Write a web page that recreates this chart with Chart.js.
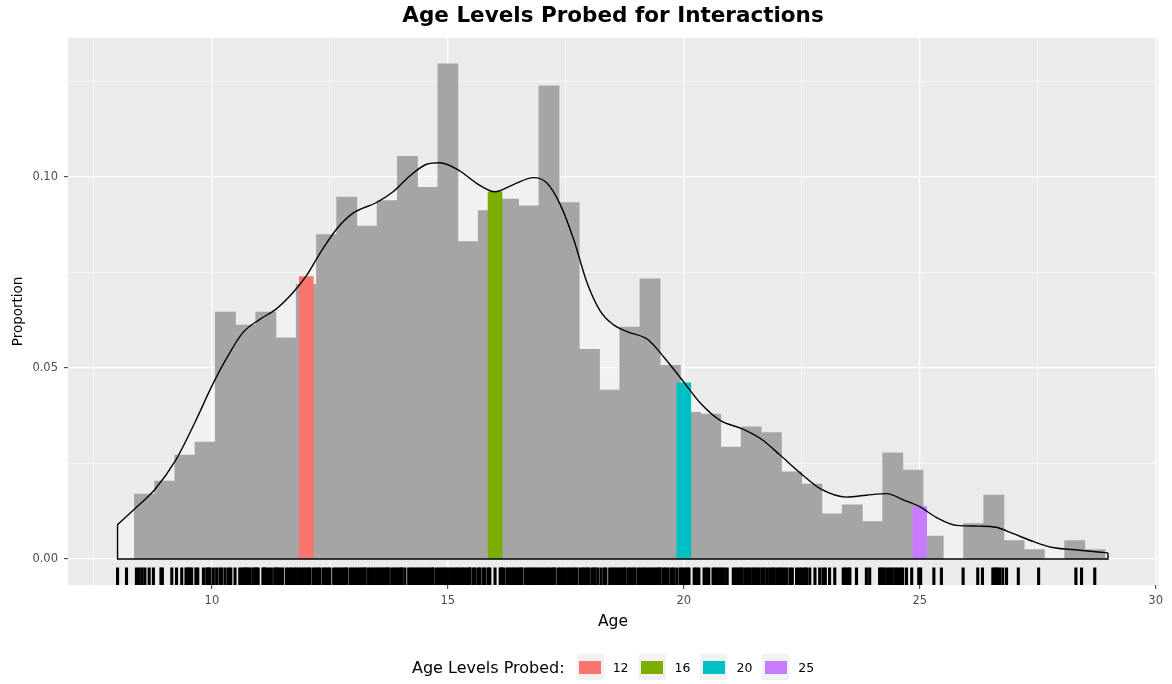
<!DOCTYPE html>
<html>
<head>
<meta charset="utf-8">
<script src="https://cdn.jsdelivr.net/npm/chart.js@4.4.1/dist/chart.umd.min.js"></script>
<style>
  html, body { margin: 0; padding: 0; background: #fff; }
  #wrap { position: relative; width: 1172px; height: 684px; }
  #legend { position: absolute; left: 412px; top: 654px; height: 26px; display: flex; align-items: center;
            font-family: 'DejaVu Sans', sans-serif; color: #000; white-space: nowrap; }
  #legend .title { font-size: 16px; }
  #legend .key { width: 27px; height: 26px; background: #F2F2F2; display: flex; align-items: center;
                 justify-content: center; margin-left: 10px; }
  #legend .key.first { margin-left: 12px; }
  #legend .swatch { width: 22px; height: 13px; }
  #legend .lab { font-size: 12.5px; margin-left: 9px; }
</style>
</head>
<body>
<div id="wrap">
  <canvas id="chart" width="1172" height="684"></canvas>
  <div id="legend"></div>
</div>
<script>
// histogram: 50 bins, centres and bar heights (proportion)
const binCenters = [
  8.143, 8.571, 9.000, 9.429, 9.857, 10.286, 10.714, 11.143, 11.571, 12.000,
  12.429, 12.857, 13.286, 13.714, 14.143, 14.571, 15.000, 15.429, 15.857, 16.286,
  16.714, 17.143, 17.571, 18.000, 18.429, 18.857, 19.286, 19.714, 20.143, 20.571,
  21.000, 21.429, 21.857, 22.286, 22.714, 23.143, 23.571, 24.000, 24.429, 24.857,
  25.286, 25.714, 26.143, 26.571, 27.000, 27.429, 27.857, 28.286, 28.714, 29.143
];
const binProportion = [
  0, 0.0170, 0.0204, 0.0272, 0.0306, 0.0646, 0.0612, 0.0646, 0.0579, 0.0719,
  0.0849, 0.0947, 0.0871, 0.0938, 0.1054, 0.0973, 0.1296, 0.0831, 0.0912, 0.0942,
  0.0924, 0.1238, 0.0933, 0.0549, 0.0442, 0.0607, 0.0733, 0.0507, 0.0384, 0.0379,
  0.0293, 0.0346, 0.0331, 0.0228, 0.0196, 0.0118, 0.0142, 0.0098, 0.0278, 0.0233,
  0.0060, 0, 0.0093, 0.0167, 0.0048, 0.0025, 0, 0.0048, 0.0025, 0
];

// kernel density curve
const densityAge = [
  8.00, 8.36, 8.79, 9.23, 9.65, 10.00, 10.30, 10.66, 11.00, 11.36,
  11.71, 12.00, 12.28, 12.64, 12.99, 13.49, 13.84, 14.20, 14.55, 14.83,
  15.21, 15.65, 16.00, 16.39, 16.82, 17.10, 17.38, 17.67, 17.95, 18.23,
  18.52, 18.80, 19.23, 19.58, 20.00, 20.36, 20.78, 21.21, 21.64, 22.04,
  22.48, 22.92, 23.45, 23.87, 24.30, 24.65, 25.00, 25.35, 25.78, 26.27,
  26.62, 26.97, 27.40, 27.82, 28.39, 28.99
];
const densityValue = [
  0.0090, 0.0131, 0.0182, 0.0258, 0.0360, 0.0453, 0.0523, 0.0593, 0.0626, 0.0654,
  0.0696, 0.0741, 0.0798, 0.0863, 0.0905, 0.0933, 0.0961, 0.1003, 0.1033, 0.1037,
  0.1019, 0.0980, 0.0961, 0.0980, 0.0998, 0.0984, 0.0928, 0.0835, 0.0723, 0.0649,
  0.0612, 0.0595, 0.0575, 0.0528, 0.0463, 0.0407, 0.0362, 0.0342, 0.0314, 0.0272,
  0.0224, 0.0182, 0.0162, 0.0167, 0.0171, 0.0155, 0.0137, 0.0109, 0.0088, 0.0086,
  0.0083, 0.0067, 0.0046, 0.0030, 0.0023, 0.0016
];

// probed age levels
const probedAges = [12, 16, 20, 25];
const probedDensity = [0.0739, 0.0961, 0.0461, 0.0137];
const probedColors = ['#F8766D', '#7CAE00', '#00BFC4', '#C77CFF'];

// individual ages (rug)
const rugAges = [
  8.00, 8.19, 8.40, 8.46, 8.52, 8.58, 8.67, 8.76, 8.92, 8.95, 9.15, 9.25, 9.36, 9.45, 9.49,
  9.53, 9.57, 9.66, 9.70, 9.82, 9.89, 9.93, 9.96, 10.03, 10.10, 10.17, 10.21, 10.28, 10.35, 10.40,
  10.49, 10.59, 10.64, 10.69, 10.72, 10.76, 10.81, 10.87, 10.91, 10.95, 10.98, 11.08, 11.11, 11.14, 11.20,
  11.26, 11.33, 11.36, 11.40, 11.45, 11.50, 11.58, 11.64,
  11.69, 11.74, 11.79, 11.84, 11.89, 11.94, 11.99, 12.04, 12.08, 12.15, 12.20, 12.25, 12.29, 12.36, 12.41,
  12.46, 12.50, 12.58, 12.63, 12.68, 12.73, 12.78, 12.83, 12.86, 12.93, 12.98, 13.03, 13.08, 13.13, 13.18,
  13.23, 13.25, 13.32, 13.37, 13.42, 13.47, 13.52, 13.57, 13.62, 13.67, 13.72, 13.74, 13.81, 13.86, 13.91,
  13.96, 14.01, 14.03, 14.09, 14.17, 14.22, 14.27, 14.32, 14.37, 14.42, 14.47, 14.52, 14.57, 14.62, 14.67,
  14.69, 14.76, 14.81, 14.86, 14.91, 14.96, 15.01, 15.06, 15.11, 15.16, 15.21, 15.26, 15.31, 15.36, 15.41,
  15.46, 15.47, 15.54, 15.58, 15.65, 15.68, 15.75, 15.79, 15.86, 15.89, 16.00, 16.11, 16.14, 16.18, 16.25,
  16.30, 16.35, 16.40, 16.45, 16.50, 16.55, 16.57, 16.64, 16.69, 16.74, 16.79, 16.84, 16.89, 16.94, 16.99,
  17.04, 17.09, 17.14, 17.19, 17.24, 17.27, 17.34, 17.39, 17.44, 17.49, 17.54, 17.59, 17.64, 17.69, 17.73,
  17.80, 17.85, 17.90, 17.95, 17.98, 18.05, 18.10, 18.12, 18.18, 18.25, 18.32, 18.35, 18.43, 18.48, 18.53,
  18.58, 18.63, 18.68, 18.73, 18.76, 18.83, 18.88, 18.93, 18.97, 19.04, 19.09, 19.14, 19.19, 19.24, 19.29,
  19.34, 19.39, 19.44, 19.49, 19.50, 19.57, 19.62, 19.67, 19.74, 19.78, 19.85, 19.92,
  19.97, 20.02, 20.07, 20.11, 20.22, 20.27, 20.32, 20.43, 20.48, 20.53, 20.62, 20.66, 20.71, 20.76, 20.81,
  20.86, 20.92, 21.05, 21.10, 21.15, 21.20, 21.24, 21.30, 21.35, 21.40, 21.46, 21.50, 21.55, 21.60, 21.66,
  21.70, 21.76, 21.82, 21.88, 21.92, 21.98, 22.03, 22.08, 22.13, 22.18, 22.25, 22.30, 22.39, 22.45, 22.50,
  22.56, 22.60, 22.67, 22.78, 22.88, 22.95, 23.00, 23.09, 23.20, 23.38, 23.43, 23.48, 23.52, 23.66, 23.87,
  23.94, 24.15, 24.20, 24.24, 24.30, 24.36, 24.41, 24.47, 24.53, 24.59, 24.64, 24.72, 24.83, 24.98, 25.02,
  25.30, 25.46, 25.92, 26.23, 26.33, 26.55, 26.60, 26.64, 26.69, 26.76, 26.84, 27.09, 27.52, 28.31, 28.43,
  28.71
];

// axis breaks (major + minor grid)
const xTicks = [7.5, 10, 12.5, 15, 17.5, 20, 22.5, 25, 27.5, 30];
const yTicks = [0, 0.025, 0.05, 0.075, 0.1, 0.125];

const FONT = "'DejaVu Sans', sans-serif";
const X_MIN = 6.95, X_MAX = 30.05;
const RUG_Y = -0.0045;

const isMajorX = (v) => Math.abs(v % 5) < 1e-9;
const isMajorY = (v) => Math.abs(Math.round(v * 1000) % 50) === 0;

const panelBackground = {
  id: 'panelBackground',
  beforeDraw(chart) {
    const { ctx, chartArea: a } = chart;
    ctx.save();
    ctx.fillStyle = '#EBEBEB';
    ctx.fillRect(a.left, a.top, a.right - a.left, a.bottom - a.top);
    ctx.restore();
  }
};

const densityPoints = densityAge.map((a, i) => ({ x: a, y: densityValue[i] }));
const lastAge = densityAge[densityAge.length - 1];
const lastVal = densityValue[densityValue.length - 1];

new Chart(document.getElementById('chart'), {
  type: 'bar',
  data: {
    datasets: [
      {
        type: 'line',
        label: 'density fill',
        data: densityPoints,
        borderWidth: 0,
        pointRadius: 0,
        cubicInterpolationMode: 'monotone',
        fill: 'origin',
        backgroundColor: 'rgba(255,255,255,0.3)',
        order: 5,
      },
      {
        type: 'bar',
        label: 'histogram',
        data: binCenters.map((a, i) => ({ x: a, y: binProportion[i] })),
        xAxisID: 'x',
        grouped: false,
        // empty bins stay invisible
        backgroundColor: (c) => (c.raw && c.raw.y > 0 ? '#A5A5A5' : 'rgba(0,0,0,0)'),
        borderWidth: 0,
        barPercentage: 1,
        categoryPercentage: 1,
        order: 4,
      },
      {
        type: 'bar',
        label: 'probed',
        data: probedAges.map((a, i) => ({ x: a, y: probedDensity[i] })),
        xAxisID: 'x2',
        grouped: false,
        backgroundColor: probedColors,
        borderWidth: 0,
        barThickness: 14,
        order: 3,
      },
      {
        type: 'scatter',
        label: 'rug',
        data: rugAges.map((a) => ({ x: a, y: RUG_Y })),
        pointStyle: 'line',
        pointRotation: 90,
        pointRadius: 8.8,
        pointBorderWidth: 3.1,
        pointBorderColor: '#000',
        pointBackgroundColor: '#000',
        order: 2,
      },
      {
        type: 'line',
        label: 'density',
        data: densityPoints,
        borderColor: '#000',
        borderWidth: 1.4,
        pointRadius: 0,
        cubicInterpolationMode: 'monotone',
        fill: false,
        order: 1,
      },
      {
        type: 'line',
        label: 'density outline',
        data: [
          { x: densityAge[0], y: densityValue[0] },
          { x: densityAge[0], y: 0 },
          { x: lastAge, y: 0 },
          { x: lastAge, y: lastVal },
        ],
        borderColor: '#000',
        borderWidth: 1.4,
        pointRadius: 0,
        tension: 0,
        fill: false,
        order: 1,
      },
    ],
  },
  options: {
    responsive: false,
    devicePixelRatio: 1,
    animation: false,
    events: [],
    layout: { padding: { top: 0, right: 14, bottom: 53, left: 0 } },
    scales: {
      x: {
        type: 'linear',
        min: X_MIN,
        max: X_MAX,
        offset: false,
        afterBuildTicks: (s) => { s.ticks = xTicks.map((v) => ({ value: v })); },
        afterFit: (s) => { s.height = 46; },
        border: { display: false },
        grid: {
          offset: false,
          color: '#FFFFFF',
          lineWidth: (c) => (c.tick && isMajorX(c.tick.value) ? 1.3 : 0.6),
          tickLength: 4,
          tickWidth: 1,
          tickColor: (c) => (c.tick && isMajorX(c.tick.value) ? '#333333' : 'rgba(0,0,0,0)'),
        },
        ticks: {
          autoSkip: false,
          maxRotation: 0,
          padding: 5,
          color: '#4D4D4D',
          font: { family: FONT, size: 11.5 },
          callback: (v) => (isMajorX(v) ? String(v) : ''),
        },
        title: {
          display: true,
          text: 'Age',
          color: '#000',
          font: { family: FONT, size: 15.5 },
          padding: { top: 0, bottom: 0 },
        },
      },
      x2: {
        type: 'linear',
        display: false,
        min: X_MIN,
        max: X_MAX,
        offset: false,
      },
      y: {
        type: 'linear',
        min: -0.0068,
        max: 0.1364,
        afterBuildTicks: (s) => { s.ticks = yTicks.map((v) => ({ value: v })); },
        afterFit: (s) => { s.width = 68; },
        border: { display: false },
        grid: {
          color: '#FFFFFF',
          lineWidth: (c) => (c.tick && isMajorY(c.tick.value) ? 1.3 : 0.6),
          tickLength: 4,
          tickWidth: 1,
          tickColor: (c) => (c.tick && isMajorY(c.tick.value) ? '#333333' : 'rgba(0,0,0,0)'),
        },
        ticks: {
          autoSkip: false,
          padding: 6,
          color: '#4D4D4D',
          font: { family: FONT, size: 11.5 },
          callback: (v) => (isMajorY(v) ? v.toFixed(2) : ''),
        },
        title: {
          display: true,
          text: 'Proportion',
          color: '#000',
          font: { family: FONT, size: 13.5 },
          padding: { top: 10, bottom: 0 },
        },
      },
    },
    plugins: {
      legend: { display: false },
      tooltip: { enabled: false },
      title: {
        display: true,
        fullSize: false,
        text: 'Age Levels Probed for Interactions',
        color: '#000',
        font: { family: FONT, size: 21.5, weight: 'bold', lineHeight: 1.2 },
        padding: { top: 4, bottom: 8 },
      },
    },
  },
  plugins: [panelBackground],
});

// legend row below the panel
const legendEl = document.getElementById('legend');
const legendTitle = document.createElement('span');
legendTitle.className = 'title';
legendTitle.textContent = 'Age Levels Probed:';
legendEl.appendChild(legendTitle);
probedAges.forEach((age, i) => {
  const key = document.createElement('span');
  key.className = 'key' + (i === 0 ? ' first' : '');
  const sw = document.createElement('span');
  sw.className = 'swatch';
  sw.style.background = probedColors[i];
  key.appendChild(sw);
  legendEl.appendChild(key);
  const lab = document.createElement('span');
  lab.className = 'lab';
  lab.textContent = String(age);
  legendEl.appendChild(lab);
});
</script>
</body>
</html>
